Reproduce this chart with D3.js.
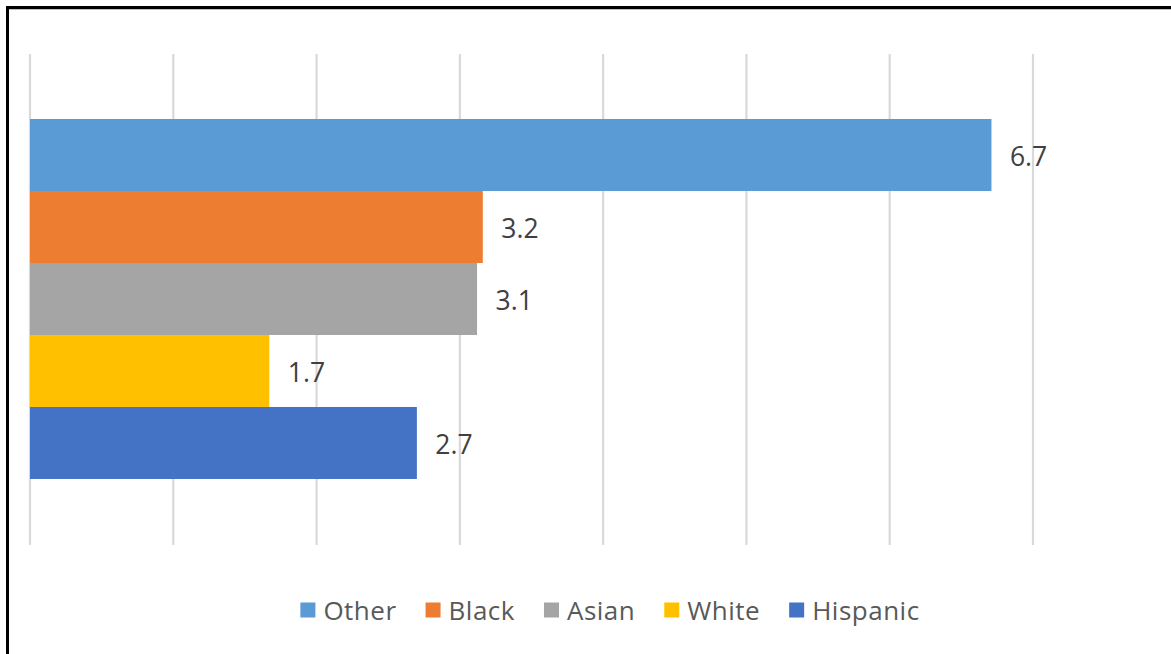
<!DOCTYPE html>
<html>
<head>
<meta charset="utf-8">
<script src="https://cdn.jsdelivr.net/npm/d3@7"></script>
<style>
  html, body { margin: 0; padding: 0; background: #fff; }
  svg { display: block; }
</style>
</head>
<body>
<svg id="chart" width="1171" height="654"></svg>
<script>
// ---- data ----
const series = ["Other", "Black", "Asian", "White", "Hispanic"];
const values = [6.71, 3.16, 3.12, 1.67, 2.70];
const colors = ["#5B9BD5", "#ED7D31", "#A5A5A5", "#FFC000", "#4472C4"];
const gridTicks = [0, 1, 2, 3, 4, 5, 6, 7];

const svg = d3.select("#chart");
const W = 1171, H = 654;

// outer frame
svg.append("rect").attr("x", 7.5).attr("y", 7.5).attr("width", W + 20).attr("height", H + 20)
  .attr("fill", "#fff").attr("stroke", "#000").attr("stroke-width", 3);
svg.append("line").attr("x1", 9).attr("x2", W).attr("y1", 9.5).attr("y2", 9.5)
  .attr("stroke", "#bfbfbf").attr("stroke-width", 1);

const x = d3.scaleLinear().domain([0, 7]).range([30, 1033]);
const y = d3.scaleBand().domain(series).range([119, 479]).padding(0);

// gridlines
svg.append("g").selectAll("line").data(gridTicks).join("line")
  .attr("x1", d => x(d)).attr("x2", d => x(d))
  .attr("y1", 54).attr("y2", 545)
  .attr("stroke", "#d9d9d9").attr("stroke-width", 2.2);

const data = series.map((s, i) => ({ s, v: values[i], c: colors[i] }));

// bars
svg.append("g").selectAll("rect").data(data).join("rect")
  .attr("x", x(0)).attr("y", d => y(d.s))
  .attr("width", d => x(d.v) - x(0)).attr("height", y.bandwidth())
  .attr("fill", d => d.c);

// value labels
svg.append("g").selectAll("text").data(data).join("text")
  .attr("x", d => x(d.v) + 18.5).attr("y", d => y(d.s) + y.bandwidth() / 2 + 1)
  .attr("dominant-baseline", "central")
  .attr("font-family", "'Open Sans', sans-serif").attr("font-size", 26.5)
  .attr("fill", "#404040")
  .text(d => d3.format(".1f")(d.v));

// legend
const lg = svg.append("g");
const items = lg.selectAll("g").data(data).join("g");
items.append("rect").attr("width", 15).attr("height", 15).attr("y", -7.5).attr("fill", d => d.c);
items.append("text").attr("x", 23).attr("y", 0).attr("dominant-baseline", "central")
  .attr("font-family", "'Open Sans', sans-serif").attr("font-size", 26)
  .attr("letter-spacing", 0.5)
  .attr("fill", "#595959").text(d => d.s);
let cx = 0;
items.each(function () {
  const g = d3.select(this);
  g.attr("transform", `translate(${cx},0)`);
  const tw = g.select("text").node().getComputedTextLength();
  cx += 23 + tw + 29;
});
const total = cx - 29;
lg.attr("transform", `translate(${610 - total / 2},610)`);
</script>
</body>
</html>
